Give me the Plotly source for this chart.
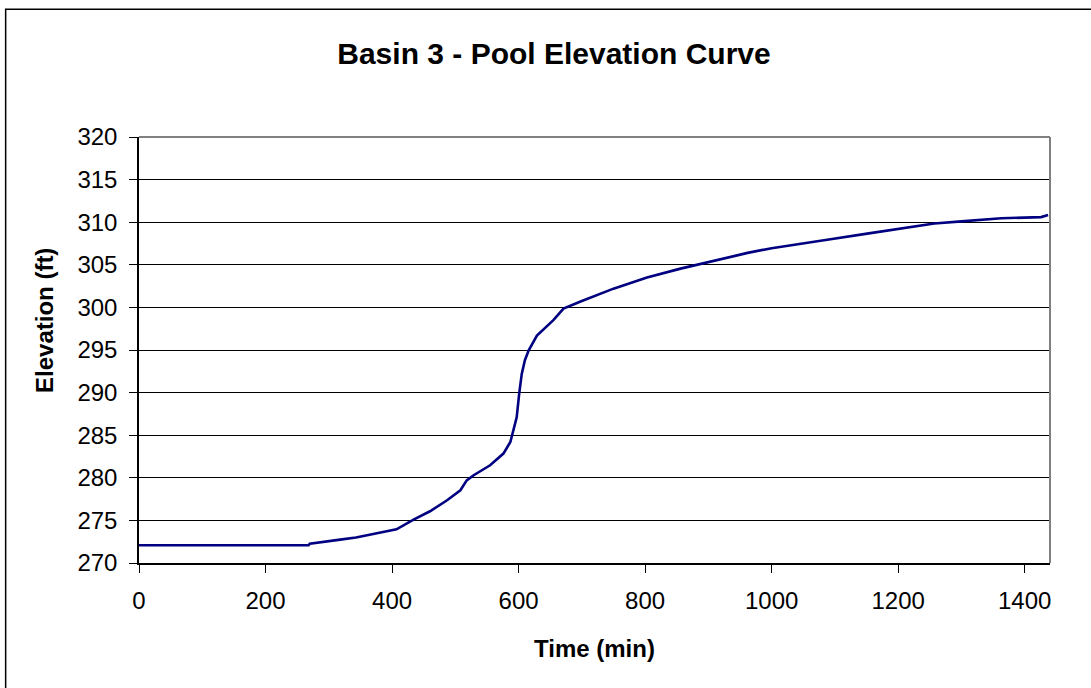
import plotly.graph_objects as go

# Data
time_min = [0, 268, 270, 298, 318, 343, 376, 407, 434, 460, 487, 508, 518, 529,
            555, 576, 587, 592, 597, 601, 605, 610, 616, 629, 655, 671, 698, 750,
            803, 856, 900, 930, 962, 1000, 1046, 1093, 1151, 1200, 1257, 1300,
            1363, 1426, 1437]
elevation_ft = [272.08, 272.08, 272.27, 272.5, 272.74, 273.0, 273.45, 273.95, 275.1,
                276.07, 277.36, 278.53, 279.7, 280.3, 281.47, 282.84, 284.2, 285.6,
                287.1, 289.9, 292.2, 293.8, 294.97, 296.7, 298.5, 299.86, 300.7,
                302.2, 303.5, 304.55, 305.3, 305.8, 306.4, 306.95, 307.5, 308.0,
                308.66, 309.2, 309.84, 310.1, 310.46, 310.6, 310.85]
x_ticks = [0, 200, 400, 600, 800, 1000, 1200, 1400]
y_ticks = [270, 275, 280, 285, 290, 295, 300, 305, 310, 315, 320]

W, H = 1091, 688
L, R, T, B = 139.3, 1050.0, 136.7, 562.7
pw, ph = R - L, B - T

def px_to_paper_x(px):
    return (px - L) / pw

def py_to_paper_y(py):
    return (B - py) / ph

FONT = "Arial, Liberation Sans, sans-serif"

fig = go.Figure()
fig.add_trace(go.Scatter(
    x=time_min, y=elevation_ft, mode="lines",
    line=dict(color="#000080", width=2.6), showlegend=False,
))

fig.update_layout(
    width=W, height=H,
    margin=dict(l=L, r=W - R, t=T, b=H - B),
    paper_bgcolor="white", plot_bgcolor="white",
    font=dict(family=FONT, size=24, color="black"),
    title=dict(text="<b>Basin 3 - Pool Elevation Curve</b>",
               font=dict(family=FONT, size=30, color="black"),
               xref="container", yref="container",
               x=554 / W, y=1 - 53 / H, xanchor="center", yanchor="middle"),
)

fig.update_xaxes(
    range=[0, 1440], tickvals=x_ticks, ticktext=[str(v) for v in x_ticks],
    ticks="outside", ticklen=8, tickcolor="black", tickwidth=1,
    showline=True, linecolor="black", linewidth=1.5,
    showgrid=False, zeroline=False,
    tickfont=dict(family=FONT, size=24, color="black"),
    ticklabelstandoff=7,
)
fig.update_yaxes(
    range=[270, 320], tickvals=y_ticks, ticktext=[str(v) for v in y_ticks],
    ticks="outside", ticklen=8, tickcolor="black", tickwidth=1,
    showline=True, linecolor="black", linewidth=1.5,
    showgrid=True, gridcolor="black", gridwidth=1,
    zeroline=False,
    tickfont=dict(family=FONT, size=24, color="black"),
    ticklabelstandoff=7,
)

# axis titles
fig.add_annotation(text="<b>Time (min)</b>", xref="paper", yref="paper",
                   x=px_to_paper_x(595), y=py_to_paper_y(648),
                   xanchor="center", yanchor="middle", showarrow=False,
                   font=dict(family=FONT, size=24, color="black"))
fig.add_annotation(text="<b>Elevation (ft)</b>", xref="paper", yref="paper",
                   x=px_to_paper_x(45), y=py_to_paper_y(320),
                   xanchor="center", yanchor="middle", showarrow=False,
                   textangle=-90,
                   font=dict(family=FONT, size=24, color="black"))

# gray plot-area border (top and right)
fig.add_shape(type="line", xref="paper", yref="paper", x0=0, x1=1, y0=1, y1=1,
              line=dict(color="#808080", width=2))
fig.add_shape(type="line", xref="paper", yref="paper", x0=1, x1=1, y0=0, y1=1,
              line=dict(color="#808080", width=2))

# outer chart frame (right/bottom edges lie outside the picture)
fig.add_shape(type="rect", xref="paper", yref="paper",
              x0=px_to_paper_x(6), x1=px_to_paper_x(1110),
              y0=py_to_paper_y(700), y1=py_to_paper_y(9),
              line=dict(color="black", width=1.5), fillcolor="rgba(0,0,0,0)")

fig.write_html("out.html")
